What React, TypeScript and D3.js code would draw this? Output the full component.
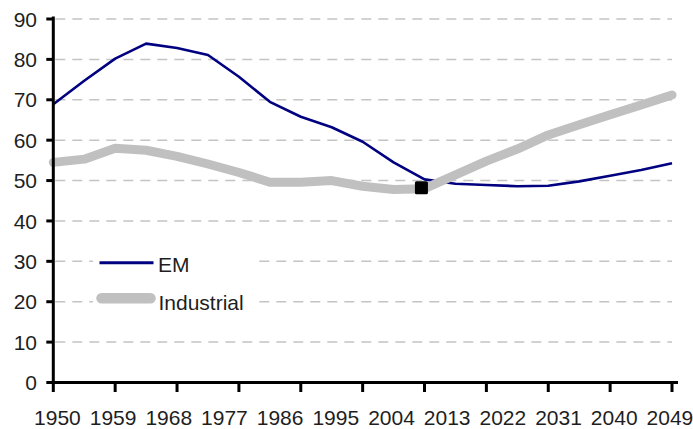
import React from "react";
import * as d3 from "d3";

const years = [1950, 1955, 1960, 1965, 1970, 1975, 1980, 1985, 1990, 1995, 2000, 2005, 2010, 2015, 2020, 2025, 2030, 2035, 2040, 2045, 2050];
const emValues = [68.9, 74.7, 80.2, 83.9, 82.8, 81.1, 75.7, 69.5, 65.8, 63.2, 59.6, 54.5, 50.3, 49.2, 48.9, 48.6, 48.7, 49.8, 51.2, 52.6, 54.3];
const industrialValues = [54.5, 55.3, 58.0, 57.5, 56.0, 54.1, 52.0, 49.6, 49.6, 50.0, 48.6, 47.8, 48.0, 51.4, 54.8, 57.8, 61.3, 63.8, 66.3, 68.7, 71.2];
const xTickYears = [1950, 1960, 1970, 1980, 1990, 2000, 2010, 2020, 2030, 2040, 2050];
const xLabelYears = [1950, 1959, 1968, 1977, 1986, 1995, 2004, 2013, 2022, 2031, 2040, 2049];
const yTicks = [0, 10, 20, 30, 40, 50, 60, 70, 80, 90];
const marker = { year: 2009.5, value: 48.2 };
const seriesNames = ["EM", "Industrial"];

const W = 693;
const H = 429;
const left = 53.3;
const right = 672;
const top = 19;
const bottom = 382.5;

export default function App() {
  const x = d3.scaleLinear().domain([1950, 2050]).range([left, right]);
  const y = d3.scaleLinear().domain([0, 90]).range([bottom, top]);
  const line = d3
    .line<number>()
    .x((_, i) => x(years[i]))
    .y((d) => y(d));
  const font = "'Liberation Sans', Arial, sans-serif";
  const textColor = "#1e1e1e";
  const fs = 21;

  return (
    <svg
      width={W}
      height={H}
      style={{ position: "absolute", left: 0, top: 0, background: "#fff" }}
      fontFamily={font}
    >
      <rect width={W} height={H} fill="#fff" />
      {yTicks
        .filter((t) => t > 0)
        .map((t) => (
          <line
            key={"g" + t}
            x1={left + 2}
            x2={right}
            y1={y(t)}
            y2={y(t)}
            stroke="#c4c4c4"
            strokeWidth={1.5}
            strokeDasharray="10 7"
          />
        ))}
      <rect x={93} y={238} width={163} height={84} fill="#fff" />
      <path d={line(emValues) || ""} fill="none" stroke="#000080" strokeWidth={2.6} strokeLinejoin="round" />
      <path d={line(industrialValues) || ""} fill="none" stroke="#c0c0c0" strokeWidth={9} strokeLinejoin="round" strokeLinecap="round" />
      <rect x={x(marker.year) - 6.5} y={y(marker.value) - 6.5} width={13} height={13} rx={1.5} fill="#000" />
      <line x1={left} x2={left} y1={top - 2.5} y2={bottom} stroke="#000" strokeWidth={3} />
      <line x1={left - 1.5} x2={678} y1={bottom} y2={bottom} stroke="#000" strokeWidth={3} />
      {yTicks.map((t) => (
        <g key={"y" + t}>
          <line x1={left - 7} x2={left} y1={y(t)} y2={y(t)} stroke="#000" strokeWidth={3} />
          <text x={37} y={y(t)} dy="0.36em" textAnchor="end" fontSize={fs} fill={textColor}>
            {t}
          </text>
        </g>
      ))}
      {xTickYears.map((t) => (
        <line key={"xt" + t} x1={x(t)} x2={x(t)} y1={bottom} y2={bottom + 9.5} stroke="#000" strokeWidth={3} />
      ))}
      {xLabelYears.map((t) => (
        <text key={"xl" + t} x={x(t + 0.5) + 1} y={425} textAnchor="middle" fontSize={fs} fill={textColor}>
          {t}
        </text>
      ))}
      <line x1={99.5} x2={153.5} y1={262.7} y2={262.7} stroke="#000080" strokeWidth={3} />
      <text x={158} y={271.5} fontSize={fs} fill={textColor}>
        {seriesNames[0]}
      </text>
      <line x1={101.5} x2={150.5} y1={298.3} y2={298.3} stroke="#c0c0c0" strokeWidth={10.5} strokeLinecap="round" />
      <text x={158.5} y={310} fontSize={fs} fill={textColor}>
        {seriesNames[1]}
      </text>
    </svg>
  );
}
